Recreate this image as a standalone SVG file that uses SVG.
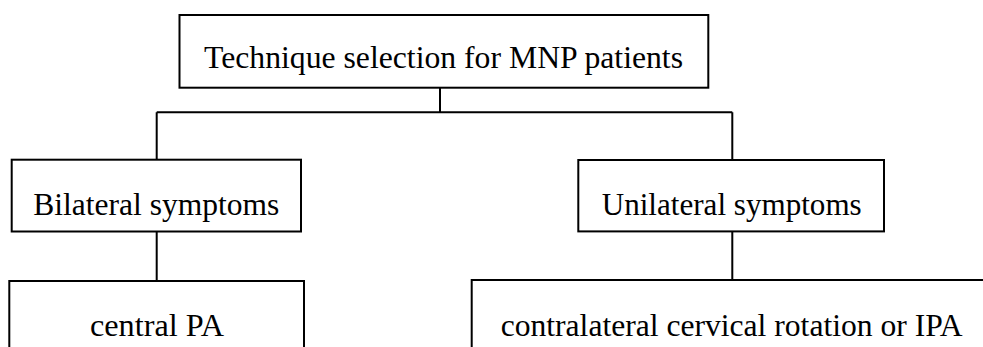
<svg xmlns="http://www.w3.org/2000/svg" width="983" height="347" viewBox="0 0 983 347">
<style>
.box{fill:#fff;stroke:#000;stroke-width:2}
.lbl{font-family:"Liberation Serif","Times New Roman",serif;font-size:31px;fill:#000;text-anchor:middle}
.conn{fill:none;stroke:#000;stroke-width:2}
</style>
<rect width="983" height="347" fill="#fff"/>
<g id="connectors">
<path class="conn" d="M440,88 V112.3 M156.7,112.3 H732.3 M156.7,112.3 V160 M732.3,112.3 V160 M156.7,231.5 V281 M732.3,231.5 V280"/>
</g>
<g id="root">
<rect class="box" x="179.5" y="15" width="528.8" height="72.7"/>
<text class="lbl" x="443.5" y="67.7" textLength="479" lengthAdjust="spacingAndGlyphs">Technique selection for MNP patients</text>
</g>
<g id="bilateral">
<rect class="box" x="11.7" y="159.7" width="289.3" height="71.8"/>
<text class="lbl" x="156.3" y="215" textLength="246" lengthAdjust="spacingAndGlyphs">Bilateral symptoms</text>
</g>
<g id="unilateral">
<rect class="box" x="578.3" y="160" width="305.7" height="71.4"/>
<text class="lbl" x="731.7" y="215" textLength="260" lengthAdjust="spacingAndGlyphs">Unilateral symptoms</text>
</g>
<g id="central">
<rect class="box" x="9.3" y="281" width="294.7" height="80"/>
<text class="lbl" x="157" y="336" textLength="134" lengthAdjust="spacingAndGlyphs">central PA</text>
</g>
<g id="contralateral">
<rect class="box" x="471.7" y="280" width="540" height="80"/>
<text class="lbl" x="731.7" y="336" textLength="462" lengthAdjust="spacingAndGlyphs">contralateral cervical rotation or IPA</text>
</g>
</svg>
